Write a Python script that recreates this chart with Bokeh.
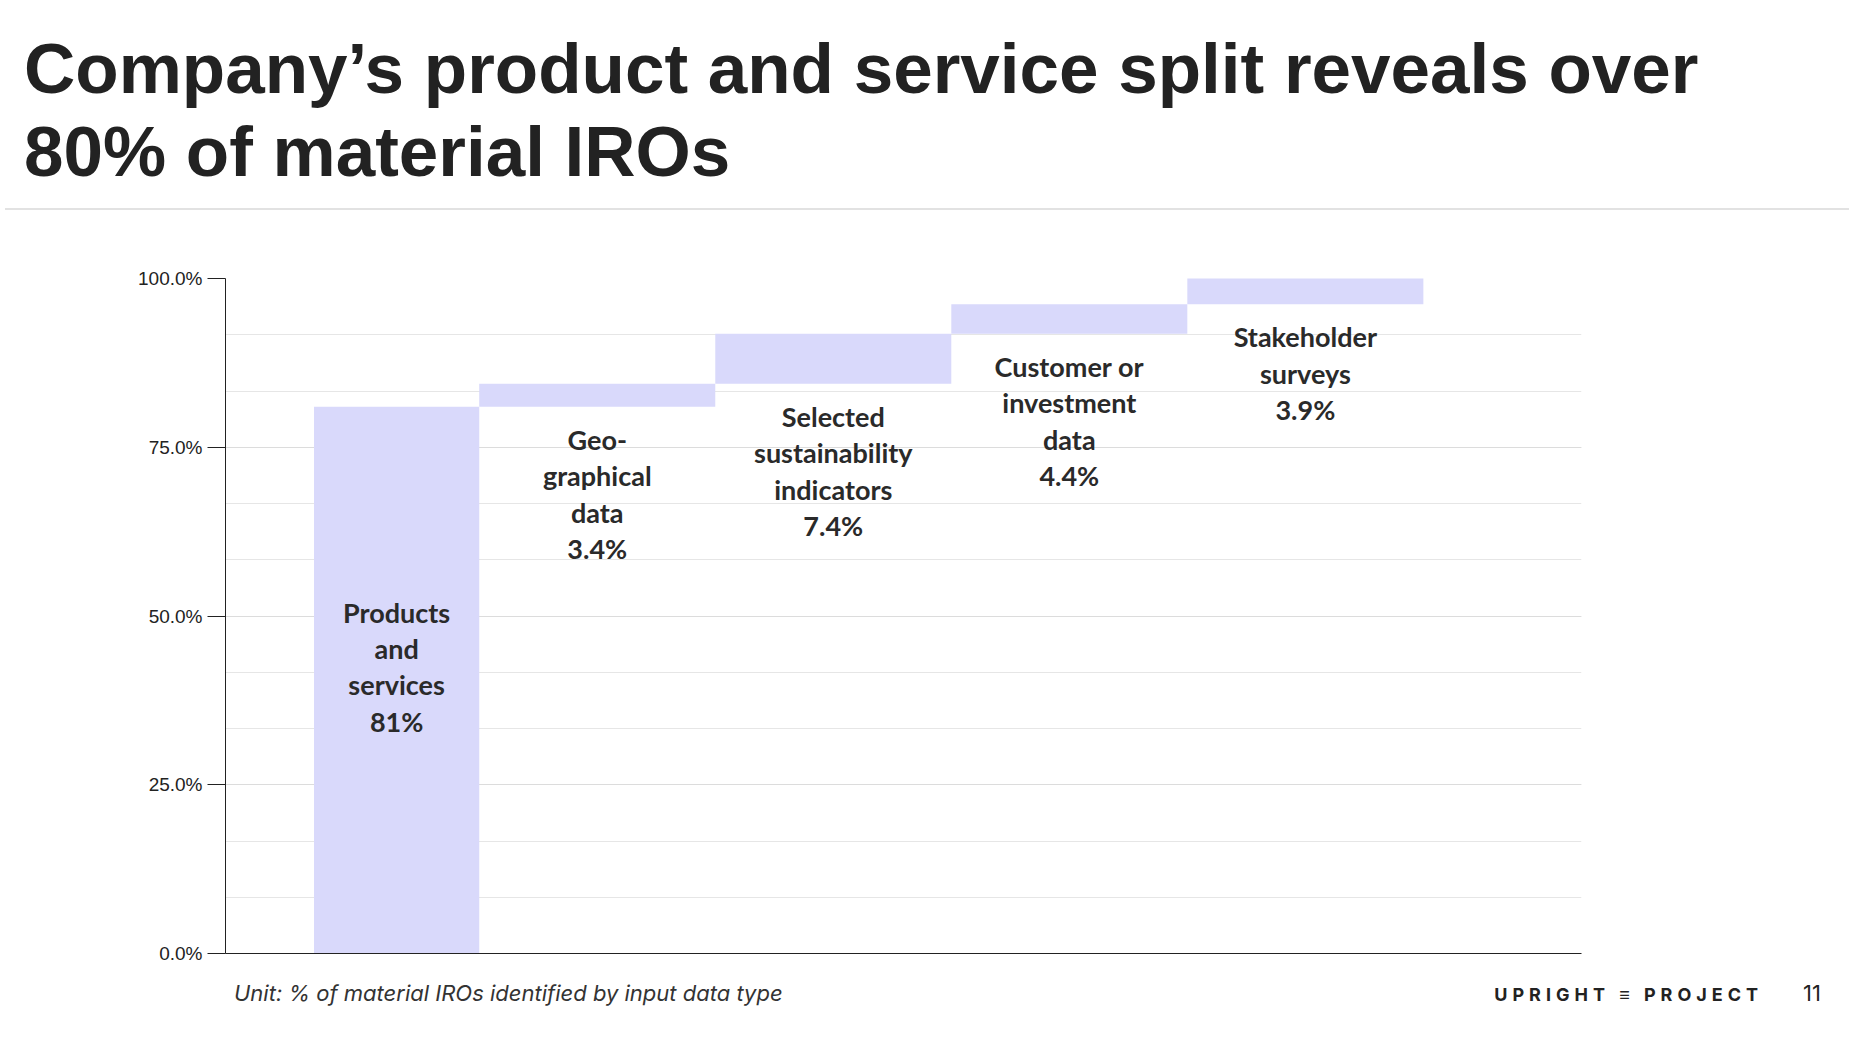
from bokeh.plotting import figure
from bokeh.models import Div, ColumnDataSource, PrintfTickFormatter, FixedTicker, Range1d
from bokeh.layouts import column
from bokeh.embed import file_html
from bokeh.resources import INLINE
from bokeh.core.properties import value

categories = ["Products\nand\nservices", "Geo-\ngraphical\ndata", "Selected\nsustainability\nindicators",
              "Customer or\ninvestment\ndata", "Stakeholder\nsurveys"]
values = [81.0, 3.4, 7.4, 4.4, 3.9]
value_labels = ["81%", "3.4%", "7.4%", "4.4%", "3.9%"]
y_ticks = [0, 25, 50, 75, 100]

# geometry (slot units)
lefts = [-0.2, 0.5, 1.5, 2.5, 3.5]
rights = [0.5, 1.5, 2.5, 3.5, 4.5]

bottoms, tops = [], []
cum = 0.0
for v in values:
    bottoms.append(cum)
    cum += v
    tops.append(cum)

W = 1844
title = Div(text="Company’s product and service split reveals over<br>80% of material IROs",
            width=W, height=205,
            styles={"font-family": "'Liberation Sans', Arial, sans-serif", "font-weight": "700",
                    "font-size": "71px", "line-height": "83px", "color": "#222",
                    "padding-left": "19px", "padding-top": "22px", "box-sizing": "border-box",
                    "border-bottom": "2px solid #e2e2e2"})

p = figure(width=W, height=758, output_backend="svg", toolbar_location=None,
           x_range=Range1d(-0.575, 5.17), y_range=Range1d(0, 100),
           min_border_left=225, min_border_right=263, min_border_top=63, min_border_bottom=20)
p.outline_line_color = None
src = ColumnDataSource(dict(left=lefts, right=rights, bottom=bottoms, top=tops))
p.quad(left="left", right="right", bottom="bottom", top="top", source=src,
       fill_color="#d9d9fb", line_color=None)

p.yaxis.ticker = FixedTicker(ticks=y_ticks, minor_ticks=[i * 100 / 12 for i in range(13)])
p.yaxis.formatter = PrintfTickFormatter(format="%.1f%%")
p.yaxis.major_tick_out = 18
p.yaxis.major_tick_in = 0
p.yaxis.minor_tick_out = 0
p.yaxis.minor_tick_in = 0
p.yaxis.major_label_text_font = "Liberation Sans"
p.yaxis.major_label_text_font_size = "19px"
p.yaxis.major_label_text_color = "#222"
p.yaxis.axis_line_color = "#222"
p.yaxis.major_tick_line_color = "#222"
p.xaxis.ticker = FixedTicker(ticks=[])
p.xaxis.major_tick_line_color = None
p.xaxis.minor_tick_line_color = None
p.xaxis.axis_line_color = "#222"
p.xgrid.grid_line_color = None
p.ygrid.grid_line_color = "#dcdcdc"
p.ygrid.minor_grid_line_color = "#e6e6e6"

for i, (cat, vl) in enumerate(zip(categories, value_labels)):
    xc = (lefts[i] + rights[i]) / 2
    text = cat + "\n" + vl
    if i == 0:
        y = 53.0
    else:
        y = bottoms[i] - 2.4
    p.text(x=[xc], y=[y], text=[text], text_align="center", text_baseline="top",
           text_font=value("Lato"), text_font_style="bold", text_font_size="27px",
           text_color="#2a2a2a", text_line_height=1.1)

footer = Div(text="""<div style="display:flex;justify-content:space-between;align-items:center;width:1844px;">
<span style="font-family:Inter,sans-serif;font-style:italic;font-size:22px;color:#333;padding-left:229px;">Unit: % of material IROs identified by input data type</span>
<span style="font-family:Inter,sans-serif;font-size:18px;font-weight:700;letter-spacing:5px;color:#222;padding-right:28px;">UPRIGHT ≡ PROJECT<span style="font-weight:400;letter-spacing:0;font-size:22px;padding-left:40px;">11</span></span>
</div>""", width=W, height=62)
strip = Div(text="", width=W, height=10, styles={"background": "#f3f5fd"})

layout = column(title, p, footer, strip, spacing=0)
open("out.html", "w").write(file_html(layout, INLINE))
